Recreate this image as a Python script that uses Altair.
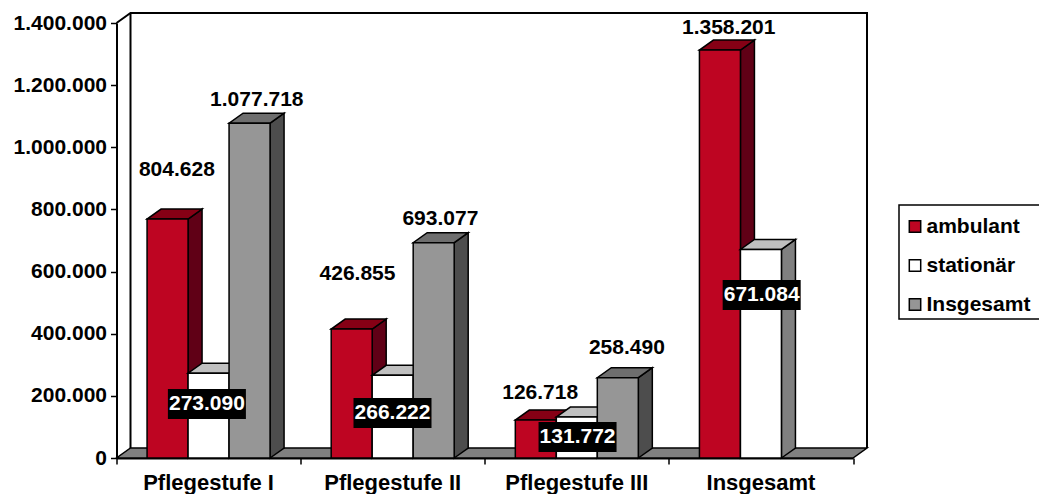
import altair as alt
import pandas as pd

categories = ["Pflegestufe I", "Pflegestufe II", "Pflegestufe III", "Insgesamt"]
series = ["ambulant", "stationär", "Insgesamt"]

# bar heights as drawn in the picture
ambulant_bars = [769000, 415000, 122000, 1313000]
stationaer_bars = [273090, 266222, 131772, 671084]
insgesamt_bars = [1077718, 693077, 258490, None]

# printed labels and where they sit (group units, value units)
ambulant_labels = ["804.628", "426.855", "126.718", "1.358.201"]
ambulant_label_x = [0.328, 1.309, 2.301, 3.325]
ambulant_label_y = [926900, 592200, 209200, 1383900]
stationaer_labels = ["273.090", "266.222", "131.772", "671.084"]
stationaer_label_x = [0.491, 1.499, 2.504, 3.504]
stationaer_label_y = [173800, 144800, 67600, 524600]
insgesamt_labels = ["1.077.718", "693.077", "258.490"]
insgesamt_label_x = [0.762, 1.759, 2.772]
insgesamt_label_y = [1152200, 769200, 354000]

front = {"ambulant": "#BE0522", "stationär": "#FFFFFF", "Insgesamt": "#969696"}
top = {"ambulant": "#860015", "stationär": "#C0C0C0", "Insgesamt": "#6E6E6E"}
side = {"ambulant": "#600016", "stationär": "#808080", "Insgesamt": "#4D4D4D"}

W, H = 736.5, 435
YMAX = 1400000
DX = 14 / (W / 4)
DY = 10 / H * YMAX
BAR = 41 / (W / 4)
GAP = (1 - 3 * BAR) / 2
FONT = "Liberation Sans"
NUM = 21

xs = alt.Scale(domain=[0, 4], nice=False, zero=False)
ys = alt.Scale(domain=[0, YMAX], nice=False)
x_axis = alt.Axis(values=[0, 1, 2, 3, 4], labels=False, grid=False, tickSize=6, title=None,
                  tickWidth=1.5, tickColor="black", domainColor="black", domainWidth=2)
y_axis = alt.Axis(values=list(range(0, YMAX + 1, 200000)), grid=False, tickSize=6, tickWidth=1.5, title=None,
                  tickColor="black", domainColor="black", domainWidth=2,
                  labelExpr="replace(format(datum.value, ','), /,/g, '.')",
                  labelFont=FONT, labelFontSize=NUM, labelFontWeight="bold", labelColor="black",
                  labelPadding=4)
X = alt.X("x:Q", scale=xs, axis=x_axis)
Y = alt.Y("y:Q", scale=ys, axis=y_axis, stack=None)
Y2 = alt.Y2("y2:Q")


def slab(x0, w, y0, pid):
    """Rows of a depth parallelogram lying on level y0."""
    return [
        dict(x=x0, y=y0, y2=y0, pid=pid),
        dict(x=x0 + DX, y=y0, y2=y0 + DY, pid=pid),
        dict(x=x0 + w, y=y0, y2=y0 + DY, pid=pid),
        dict(x=x0 + w + DX, y=y0 + DY, y2=y0 + DY, pid=pid),
    ]


def wall(x0, hi, pid):
    return [
        dict(x=x0, y=0, y2=hi, pid=pid),
        dict(x=x0 + DX, y=DY, y2=hi + DY, pid=pid),
    ]


def poly(rows, fill):
    return (
        alt.Chart(pd.DataFrame(rows))
        .mark_area(fill=fill, stroke="black", strokeWidth=1.5, opacity=1, orient="vertical")
        .encode(x=X, y=Y, y2=Y2, detail="pid:N")
    )


layers = []

# walls
frame = pd.DataFrame(
    {
        "x": [0, DX, 4 + DX, 4 + DX],
        "y": [YMAX, YMAX + DY, YMAX + DY, DY],
        "o": [0, 1, 2, 3],
    }
)
layers.append(
    alt.Chart(frame).mark_line(color="black", strokeWidth=2).encode(x=X, y=Y, order="o:Q")
)
layers.append(
    alt.Chart(pd.DataFrame({"x": [DX], "y": [DY], "y2": [YMAX + DY]}))
    .mark_rule(color="black", strokeWidth=2)
    .encode(x=X, y=Y, y2=Y2)
)

# floor
layers.append(poly(slab(0, 4, 0, "floor"), "#808080"))

# legend box
layers.append(
    alt.Chart(pd.DataFrame({"k": [0]}))
    .mark_rect(fill="white", stroke="black", strokeWidth=1.5)
    .encode(x=alt.value(782.5), x2=alt.value(960), y=alt.value(182), y2=alt.value(296))
)

# bars, back to front
values = dict(zip(series, [ambulant_bars, stationaer_bars, insgesamt_bars]))
fill_scale = alt.Scale(domain=series, range=[front[s] for s in series])
for si, s in enumerate(series):
    sides, tops, fronts = [], [], []
    for gi, v in enumerate(values[s]):
        if v is None:
            continue
        x0 = gi + GAP + si * BAR
        sides += wall(x0 + BAR, v, f"{s}{gi}")
        tops += slab(x0, BAR, v, f"{s}{gi}")
        fronts.append(dict(x=x0, x2=x0 + BAR, y=0, y2=v, series=s))
    layers.append(poly(sides, side[s]))
    layers.append(poly(tops, top[s]))
    layers.append(
        alt.Chart(pd.DataFrame(fronts))
        .mark_rect(stroke="black", strokeWidth=1.5)
        .encode(
            x=X, x2="x2:Q", y=Y, y2=Y2,
            fill=alt.Fill(
                "series:N", scale=fill_scale,
                legend=alt.Legend(
                    title=None, orient="none", legendX=788, legendY=193,
                    symbolType="square", symbolSize=130, symbolStrokeColor="black", symbolStrokeWidth=1.5,
                    labelFont=FONT, labelFontSize=21, labelFontWeight="bold", labelColor="black",
                    rowPadding=17, labelOffset=1, labelLimit=200, values=series,
                ),
            ),
        )
    )

# value labels
LW = 39 / (W / 4)
LH = 15 / H * YMAX
def label_df(x, y, t):
    return pd.DataFrame({"x": x, "y": y, "t": t})

for xv, yv, tv in [
    (ambulant_label_x, ambulant_label_y, ambulant_labels),
    (insgesamt_label_x, insgesamt_label_y, insgesamt_labels),
]:
    layers.append(
        alt.Chart(label_df(xv, yv, tv))
        .mark_text(font=FONT, fontSize=NUM, fontWeight="bold", color="black", baseline="middle")
        .encode(x=X, y=Y, text="t:N")
    )

st = pd.DataFrame({"x": stationaer_label_x, "y": stationaer_label_y, "t": stationaer_labels})
st["xa"] = st.x - LW
st["xb"] = st.x + LW
st["ya"] = st.y - LH
st["yb"] = st.y + LH
layers.append(
    alt.Chart(st)
    .mark_rect(fill="black")
    .encode(x=alt.X("xa:Q", scale=xs, axis=x_axis), x2="xb:Q", y=alt.Y("ya:Q", scale=ys, axis=y_axis), y2="yb:Q")
)
layers.append(
    alt.Chart(st)
    .mark_text(font=FONT, fontSize=NUM, fontWeight="bold", color="white", baseline="middle")
    .encode(x=X, y=Y, text="t:N")
)

# category labels
cat = pd.DataFrame({"x": [i + 0.5 for i in range(4)], "t": categories})
layers.append(
    alt.Chart(cat)
    .mark_text(font=FONT, fontSize=22, fontWeight="bold", color="black", baseline="middle")
    .encode(x=X, y=alt.value(460), text="t:N")
)

chart = (
    alt.layer(*layers)
    .properties(
        width=W, height=H,
        background="white",
        padding={"left": 108.5, "top": 15, "right": 186, "bottom": 36},
        autosize=alt.AutoSizeParams(type="none"),
    )
    .configure_view(stroke="transparent")
)
chart.save("out.html", embed_options={"renderer": "svg", "actions": False})
